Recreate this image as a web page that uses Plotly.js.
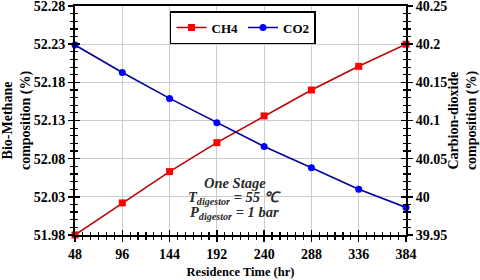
<!DOCTYPE html>
<html>
<head>
<meta charset="utf-8">
<script src="https://cdn.plot.ly/plotly-3.0.1.min.js"></script>
<style>
html,body{margin:0;padding:0;background:#fff;}
</style>
</head>
<body>
<div id="chart" style="width:480px;height:280px"></div>
<script>
const residenceTime = [48, 96, 144, 192, 240, 288, 336, 384];
const ch4 = [51.98, 52.022, 52.063, 52.101, 52.136, 52.170, 52.201, 52.230];
const co2 = [40.199, 40.163, 40.129, 40.097, 40.066, 40.038, 40.010, 39.986];
const seriesNames = ['CH4', 'CO2'];
const xTitle = 'Residence Time (hr)';
const y1Title = 'Bio-Methane<br>composition (%)';
const y2Title = 'Carbion-dioxide<br>composition (%)';
const noteLines = ['<i>One Stage</i>', '<i>T<sub>digestor</sub> = 55 ℃</i>', '<i>P<sub>digestor</sub> = 1 bar</i>'];

const serifFam = 'Liberation Serif';
function boldFont(s) { return {family: serifFam, size: s, color: '#000', weight: 'bold'}; }

const traces = [
  {x: residenceTime, y: ch4, name: seriesNames[0], type: 'scatter', mode: 'lines+markers',
   line: {color: '#c00000', width: 1.6}, marker: {symbol: 'square', size: 7, color: '#ff0000'},
   xaxis: 'x', yaxis: 'y', cliponaxis: false},
  {x: residenceTime, y: co2, name: seriesNames[1], type: 'scatter', mode: 'lines+markers',
   line: {color: '#00009c', width: 1.6}, marker: {symbol: 'circle', size: 7, color: '#0000ff'},
   xaxis: 'x', yaxis: 'y2', cliponaxis: false},
  {x: [], y: [], type: 'scatter', mode: 'lines', xaxis: 'x3', yaxis: 'y3', showlegend: false, hoverinfo: 'skip'},
  {x: [], y: [], type: 'scatter', mode: 'lines', xaxis: 'x3', yaxis: 'y4', showlegend: false, hoverinfo: 'skip'}
];

const xr = [47.99, 384.01], y1r = [51.9799, 52.2801], y2r = [39.9499, 40.2501];
function minorT(d, dir) { return {dtick: d, ticks: dir, ticklen: 3, tickwidth: 1.2, tickcolor: '#000', showgrid: false}; }
function ax(extra) { return Object.assign({zeroline: false, tickwidth: 1.5, tickcolor: '#000', ticklen: 5, ticklabeloverflow: 'allow'}, extra); }

const layout = {
  width: 480, height: 280,
  margin: {l: 75, r: 74, t: 6, b: 45},
  paper_bgcolor: '#fff', plot_bgcolor: 'rgba(0,0,0,0)',
  showlegend: true,
  legend: {orientation: 'h', x: 0.287, y: 0.978, xanchor: 'left', yanchor: 'top',
    bgcolor: '#fff', bordercolor: '#000', borderwidth: 1.5, font: boldFont(13), itemwidth: 30},
  xaxis: ax({range: xr, tick0: 48, dtick: 48, ticks: 'outside', minor: minorT(8, 'outside'),
    showgrid: true, gridcolor: '#cccccc', gridwidth: 1, showline: true, linecolor: '#000', linewidth: 2, mirror: true,
    tickfont: boldFont(14), title: {text: xTitle, font: boldFont(12.5), standoff: 6}}),
  xaxis3: ax({range: xr, tick0: 48, dtick: 48, ticks: 'inside', overlaying: 'x', anchor: 'y3',
    minor: minorT(8, 'inside'), showgrid: false, showline: false, showticklabels: false}),
  yaxis: ax({range: y1r, tick0: 51.98, dtick: 0.05, ticks: 'outside', minor: minorT(0.01, 'outside'),
    showgrid: true, gridcolor: '#cccccc', gridwidth: 1, showline: true, linecolor: '#000', linewidth: 2, mirror: true,
    tickfont: boldFont(14), title: {text: y1Title, font: boldFont(14), standoff: 6}}),
  yaxis3: ax({range: y1r, tick0: 51.98, dtick: 0.05, ticks: 'inside', overlaying: 'y', anchor: 'x3',
    minor: minorT(0.01, 'inside'), showgrid: false, showline: false, showticklabels: false}),
  yaxis2: ax({range: y2r, tick0: 39.95, dtick: 0.05, ticks: 'outside', overlaying: 'y', side: 'right', anchor: 'x',
    minor: minorT(0.01, 'outside'), showgrid: false, showline: true, linecolor: '#000', linewidth: 2,
    tickfont: boldFont(14), title: {text: y2Title, font: boldFont(14), standoff: 6}}),
  yaxis4: ax({range: y2r, tick0: 39.95, dtick: 0.05, ticks: 'inside', overlaying: 'y', side: 'right', anchor: 'x3',
    minor: minorT(0.01, 'inside'), showgrid: false, showline: false, showticklabels: false}),
  annotations: noteLines.map((t, i) => ({
    text: t, xref: 'paper', yref: 'paper', x: 0.483, y: (235 - (183 + 15 * i)) / 229,
    xanchor: 'center', yanchor: 'middle', showarrow: false,
    font: {family: serifFam, size: 14.5, color: '#2a2a2a', weight: 'bold'}
  }))
};

Plotly.newPlot('chart', traces, layout, {staticPlot: true});
</script>
</body>
</html>
